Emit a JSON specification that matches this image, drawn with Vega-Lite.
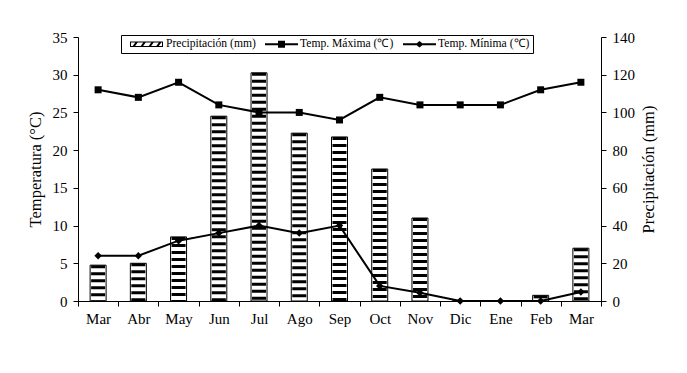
{
  "$schema": "https://vega.github.io/schema/vega-lite/v6.json",
  "width": 523,
  "height": 264,
  "autosize": "none",
  "padding": {"left": 78, "top": 37, "right": 86, "bottom": 72},
  "background": "white",
  "datasets": {
    "precip": [
      {"mes": "Mar-1", "mm": 19},
      {"mes": "Abr", "mm": 20},
      {"mes": "May", "mm": 34},
      {"mes": "Jun", "mm": 98},
      {"mes": "Jul", "mm": 121},
      {"mes": "Ago", "mm": 89},
      {"mes": "Sep", "mm": 87},
      {"mes": "Oct", "mm": 70},
      {"mes": "Nov", "mm": 44},
      {"mes": "Dic", "mm": 0},
      {"mes": "Ene", "mm": 0},
      {"mes": "Feb", "mm": 3},
      {"mes": "Mar-2", "mm": 28}
    ],
    "temp": [
      {"mes": "Mar-1", "serie": "Temp. Máxima (℃)", "t": 28},
      {"mes": "Abr", "serie": "Temp. Máxima (℃)", "t": 27},
      {"mes": "May", "serie": "Temp. Máxima (℃)", "t": 29},
      {"mes": "Jun", "serie": "Temp. Máxima (℃)", "t": 26},
      {"mes": "Jul", "serie": "Temp. Máxima (℃)", "t": 25},
      {"mes": "Ago", "serie": "Temp. Máxima (℃)", "t": 25},
      {"mes": "Sep", "serie": "Temp. Máxima (℃)", "t": 24},
      {"mes": "Oct", "serie": "Temp. Máxima (℃)", "t": 27},
      {"mes": "Nov", "serie": "Temp. Máxima (℃)", "t": 26},
      {"mes": "Dic", "serie": "Temp. Máxima (℃)", "t": 26},
      {"mes": "Ene", "serie": "Temp. Máxima (℃)", "t": 26},
      {"mes": "Feb", "serie": "Temp. Máxima (℃)", "t": 28},
      {"mes": "Mar-2", "serie": "Temp. Máxima (℃)", "t": 29},
      {"mes": "Mar-1", "serie": "Temp. Mínima (℃)", "t": 6},
      {"mes": "Abr", "serie": "Temp. Mínima (℃)", "t": 6},
      {"mes": "May", "serie": "Temp. Mínima (℃)", "t": 8},
      {"mes": "Jun", "serie": "Temp. Mínima (℃)", "t": 9},
      {"mes": "Jul", "serie": "Temp. Mínima (℃)", "t": 10},
      {"mes": "Ago", "serie": "Temp. Mínima (℃)", "t": 9},
      {"mes": "Sep", "serie": "Temp. Mínima (℃)", "t": 10},
      {"mes": "Oct", "serie": "Temp. Mínima (℃)", "t": 2},
      {"mes": "Nov", "serie": "Temp. Mínima (℃)", "t": 1.1},
      {"mes": "Dic", "serie": "Temp. Mínima (℃)", "t": 0},
      {"mes": "Ene", "serie": "Temp. Mínima (℃)", "t": 0},
      {"mes": "Feb", "serie": "Temp. Mínima (℃)", "t": 0},
      {"mes": "Mar-2", "serie": "Temp. Mínima (℃)", "t": 1.2}
    ]
  },
  "encoding": {
    "x": {
      "field": "mes",
      "type": "nominal",
      "scale": {
        "type": "band",
        "domain": ["Mar-1", "Abr", "May", "Jun", "Jul", "Ago", "Sep", "Oct", "Nov", "Dic", "Ene", "Feb", "Mar-2"],
        "paddingInner": 0,
        "paddingOuter": 0
      },
      "axis": {
        "title": null,
        "labelExpr": "split(datum.label, '-')[0]",
        "labelAngle": 0,
        "tickBand": "extent",
        "tickSize": 5,
        "labelPadding": 5
      }
    }
  },
  "layer": [
    {
      "data": {"name": "precip"},
      "encoding": {
        "y": {
          "field": "mm",
          "type": "quantitative",
          "scale": {"domain": [0, 140], "nice": false},
          "axis": {
            "orient": "right",
            "title": "Precipitación (mm)",
            "titleAngle": 270,
            "titleBaseline": "top",
            "values": [0, 20, 40, 60, 80, 100, 120, 140],
            "labelOverlap": false,
            "tickSize": 5,
            "labelPadding": 6,
            "titlePadding": 6
          }
        }
      },
      "layer": [
        {
          "mark": {"type": "bar", "width": 16, "fill": "white", "stroke": "black", "strokeWidth": 1}
        },
        {
          "mark": {"type": "rule", "strokeWidth": 14, "strokeDash": [3, 4], "color": "black"},
          "encoding": {
            "y2": {"datum": 0}
          }
        }
      ]
    },
    {
      "data": {"name": "temp"},
      "encoding": {
        "y": {
          "field": "t",
          "type": "quantitative",
          "scale": {"domain": [0, 35], "nice": false},
          "axis": {
            "orient": "left",
            "title": "Temperatura (°C)",
            "values": [0, 5, 10, 15, 20, 25, 30, 35],
            "labelOverlap": false,
            "tickSize": 5,
            "labelPadding": 6,
            "titlePadding": 9
          }
        }
      },
      "layer": [
        {
          "mark": {"type": "line", "color": "black", "strokeWidth": 2},
          "encoding": {
            "detail": {"field": "serie", "type": "nominal"}
          }
        },
        {
          "transform": [{"filter": "datum.serie === 'Temp. Máxima (℃)'"}],
          "mark": {"type": "point", "filled": true, "color": "black", "size": 49, "opacity": 1, "shape": "square"}
        },
        {
          "transform": [{"filter": "datum.serie === 'Temp. Mínima (℃)'"}],
          "mark": {"type": "point", "filled": true, "color": "black", "size": 56, "opacity": 1, "shape": "diamond"}
        },
        {
          "transform": [{"filter": "false"}],
          "mark": {"type": "point", "filled": true, "color": "black", "opacity": 1},
          "encoding": {
            "shape": {
              "field": "serie",
              "type": "nominal",
              "scale": {
                "domain": ["Precipitación (mm)", "Temp. Máxima (℃)", "Temp. Mínima (℃)"],
                "range": [
                  "M0,-0.467H5.5V0.467H0Z M0.167,-0.3V0.3H5.333V-0.3Z M0.333,0.467L1,-0.467H1.4L0.733,0.467Z M1.667,0.467L2.333,-0.467H2.733L2.067,0.467Z M3,0.467L3.667,-0.467H4.067L3.4,0.467Z M4.267,0.467L4.933,-0.467H5.333L4.667,0.467Z",
                  "M0.167,-0.167H5.667V0.167H0.167Z M2.333,-0.583H3.5V0.583H2.333Z",
                  "M0.167,-0.167H5.667V0.167H0.167Z M2.25,0L2.917,-0.533L3.583,0L2.917,0.533Z"
                ]
              },
              "legend": {
                "title": null,
                "orient": "none",
                "legendX": 43,
                "legendY": -2,
                "direction": "horizontal",
                "padding": 3,
                "strokeColor": "black",
                "fillColor": "white",
                "labelFontSize": 11.6,
                "labelFont": "Liberation Serif",
                "labelColor": "black",
                "labelOffset": 30,
                "columnPadding": 2,
                "symbolSize": 144,
                "symbolFillColor": "black",
                "symbolStrokeColor": "black",
                "symbolStrokeWidth": 0,
                "symbolOpacity": 1
              }
            }
          }
        }
      ]
    }
  ],
  "resolve": {"scale": {"y": "independent"}, "axis": {"y": "independent"}},
  "config": {
    "font": "Liberation Serif",
    "view": {"stroke": null},
    "axis": {
      "domainColor": "black",
      "tickColor": "black",
      "labelColor": "black",
      "titleColor": "black",
      "labelFont": "Liberation Serif",
      "titleFont": "Liberation Serif",
      "labelFontSize": 15,
      "titleFontSize": 16.5,
      "titleFontWeight": "normal",
      "domainWidth": 1,
      "tickWidth": 1,
      "grid": false
    }
  }
}
